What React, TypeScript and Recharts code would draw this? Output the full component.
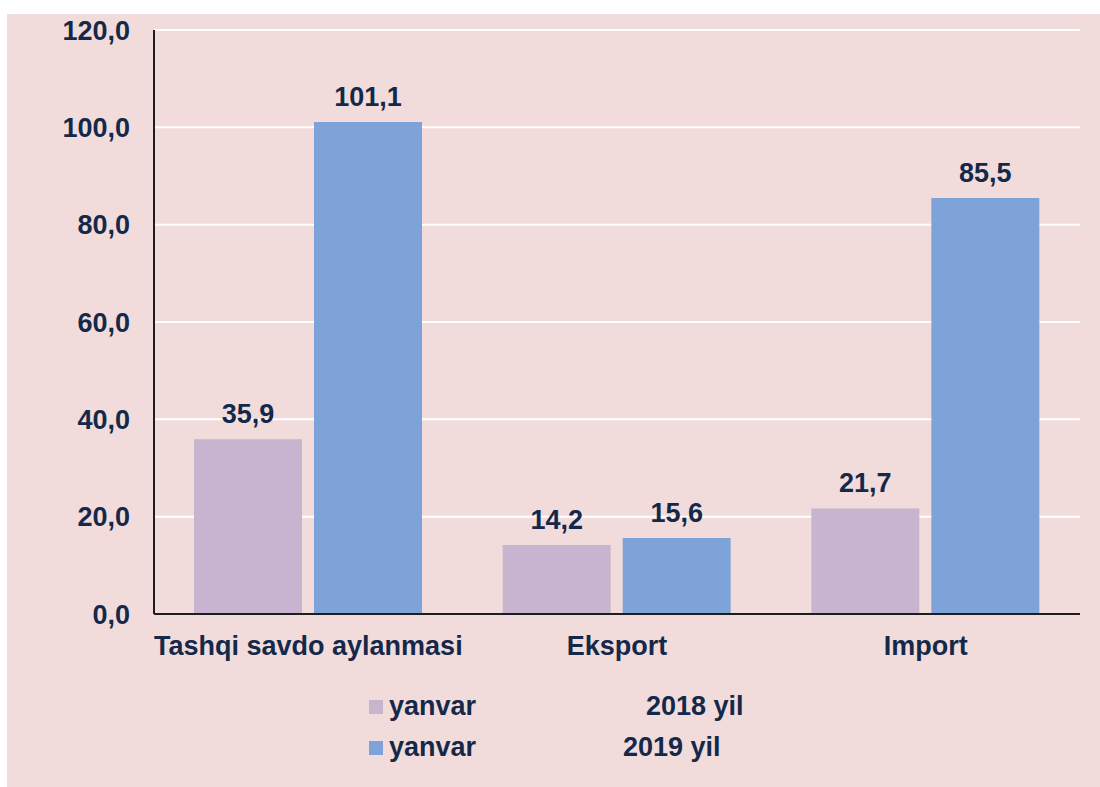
import React from 'react';
import { BarChart, Bar, XAxis, YAxis, CartesianGrid, Legend, LabelList } from 'recharts';

const categories = ['Tashqi savdo aylanmasi', 'Eksport', 'Import'];
const values2018 = [35.9, 14.2, 21.7];
const values2019 = [101.1, 15.6, 85.5];
const seriesNames = ['yanvar 2018 yil', 'yanvar 2019 yil'];
const yTicks = [0, 20, 40, 60, 80, 100, 120];

const data = categories.map((c, i) => ({ name: c, a: values2018[i], b: values2019[i] }));

const FONT = '"Liberation Sans", Arial, sans-serif';
const TEXT = '#14294A';
const BG = '#F2DCDB';
const C2018 = '#C7B4CF';
const C2019 = '#7EA3D8';
const AXIS = '#1E1E1E';
const FS = 27;

const fmt = (v: any) => Number(v).toFixed(1).replace('.', ',');

const yearLeft = [277, 254];

const renderLegend = (props: any) => {
  const { payload } = props;
  return (
    <div style={{ fontFamily: FONT, fontWeight: 700, fontSize: FS, color: TEXT, position: 'relative' }}>
      {(payload || []).map((entry: any, i: number) => {
        const parts = String(entry.value).split(' ');
        const word = parts[0];
        const rest = parts.slice(1).join(' ');
        return (
          <div key={i} style={{ position: 'relative', height: 41, display: 'flex', alignItems: 'center' }}>
            <span style={{ display: 'inline-block', width: 14, height: 14, background: entry.color, marginRight: 6 }} />
            <span>{word}</span>
            <span style={{ position: 'absolute', left: yearLeft[i] }}>{rest}</span>
          </div>
        );
      })}
    </div>
  );
};

export default function App() {
  return (
    <div style={{ position: 'absolute', left: 7, top: 14, width: 1093, height: 773, background: BG }}>
      <BarChart
        width={1093}
        height={772}
        data={data}
        margin={{ top: 16, right: 20, left: 0, bottom: 112 }}
        barSize={108}
        barGap={12}
      >
        <CartesianGrid vertical={false} stroke="#FFFFFF" strokeWidth={2} />
        <XAxis
          dataKey="name"
          height={60}
          axisLine={{ stroke: AXIS, strokeWidth: 2 }}
          tickLine={false}
          tickSize={0}
          tickMargin={22}
          tick={{ fill: TEXT, fontSize: FS, fontWeight: 700, fontFamily: FONT }}
          interval={0}
        />
        <YAxis
          width={147}
          domain={[0, 120]}
          ticks={yTicks}
          tickFormatter={fmt}
          axisLine={{ stroke: AXIS, strokeWidth: 2 }}
          tickLine={false}
          tickSize={0}
          tickMargin={24}
          tick={{ fill: TEXT, fontSize: FS, fontWeight: 700, fontFamily: FONT }}
          interval={0}
        />
        <Legend
          layout="vertical"
          align="center"
          verticalAlign="middle"
          content={renderLegend}
          wrapperStyle={{ left: 362, top: 672, width: 500 }}
        />
        <Bar dataKey="a" name={seriesNames[0]} fill={C2018} isAnimationActive={false}>
          <LabelList dataKey="a" position="top" offset={16} formatter={fmt} fill={TEXT} fontSize={FS} fontWeight={700} fontFamily={FONT} />
        </Bar>
        <Bar dataKey="b" name={seriesNames[1]} fill={C2019} isAnimationActive={false}>
          <LabelList dataKey="b" position="top" offset={16} formatter={fmt} fill={TEXT} fontSize={FS} fontWeight={700} fontFamily={FONT} />
        </Bar>
      </BarChart>
    </div>
  );
}
